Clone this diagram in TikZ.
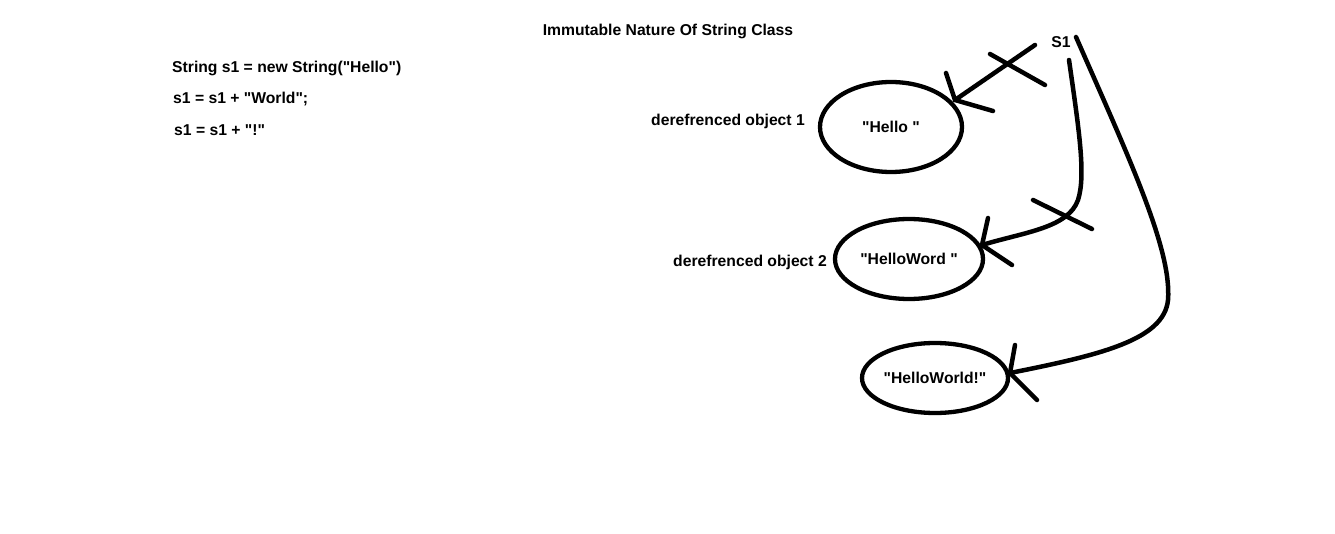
\documentclass[tikz,border=0pt]{standalone}
\usepackage{fontspec}
\setmainfont{Liberation Sans}
\usetikzlibrary{shapes.geometric}

\newcommand{\dq}{\textquotedbl}

\tikzset{
	txt/.style={inner sep=0pt, font=\fontsize{15.7}{18}\selectfont\bfseries},
	obj/.style={draw, ellipse, line width=4.3pt, inner sep=0pt, font=\fontsize{15.7}{18}\selectfont\bfseries},
	pen/.style={line width=4.5pt, line cap=round}
}

\begin{document}
\begin{tikzpicture}[x=1pt, y=-1pt]
			%%%%% START %%%%%
			
			\useasboundingbox (0, 0) rectangle (1335, 534);
			
			\node[txt] (title) at (668, 31) {Immutable Nature Of String Class};
			
			\node[txt, anchor=west] (line1) at (172, 68) {String s1 = new String(\dq Hello\dq)};
			\node[txt, anchor=west] (line2) at (173, 99) {s1 = s1 + \dq World\dq;};
			\node[txt, anchor=west] (line3) at (174, 130) {s1 = s1 + \dq!\dq};
			
			\node[txt] (s1) at (1061, 42) {S1};
			
			\node[obj, minimum width=142, minimum height=90] (hello) at (891, 127) {\dq Hello \dq};
			\node[obj, minimum width=148, minimum height=80] (helloword) at (909, 259) {\dq HelloWord \dq};
			\node[obj, minimum width=146, minimum height=70] (helloworld) at (935, 378) {\dq HelloWorld!\dq};
			
			\node[txt, anchor=east] (deref1) at (805, 121) {derefrenced object 1};
			\node[txt, anchor=east] (deref2) at (827, 262) {derefrenced object 2};
			
			% arrow to "Hello "
			\coordinate (from1) at (1035, 45);
			\coordinate (tip1) at (955, 100);
			\draw[pen] (from1) -- (tip1);
			\draw[pen] (946, 73) -- (tip1) -- (993, 111);
			\draw[pen] (990, 54) -- (1045, 85);
			
			% arrow to "HelloWord "
			\coordinate (from2) at (1069, 60);
			\coordinate (tip2) at (982, 245);
			\draw[pen] (from2) .. controls (1079, 130) and (1086, 175) .. (1078, 200)
				.. controls (1068, 228) and (1025, 232) .. (tip2);
			\draw[pen] (988, 218) -- (tip2) -- (1012, 265);
			\draw[pen] (1033, 200) -- (1092, 229);
			
			% arrow to "HelloWorld!"
			\coordinate (from3) at (1076, 37);
			\coordinate (tip3) at (1010, 373);
			\draw[pen] (from3) .. controls (1130, 160) and (1172, 250) .. (1168, 300)
				.. controls (1164, 340) and (1100, 355) .. (tip3);
			\draw[pen] (1015, 345) -- (tip3) -- (1037, 400);
			
			%%%%% END %%%%%
\end{tikzpicture}
\end{document}
